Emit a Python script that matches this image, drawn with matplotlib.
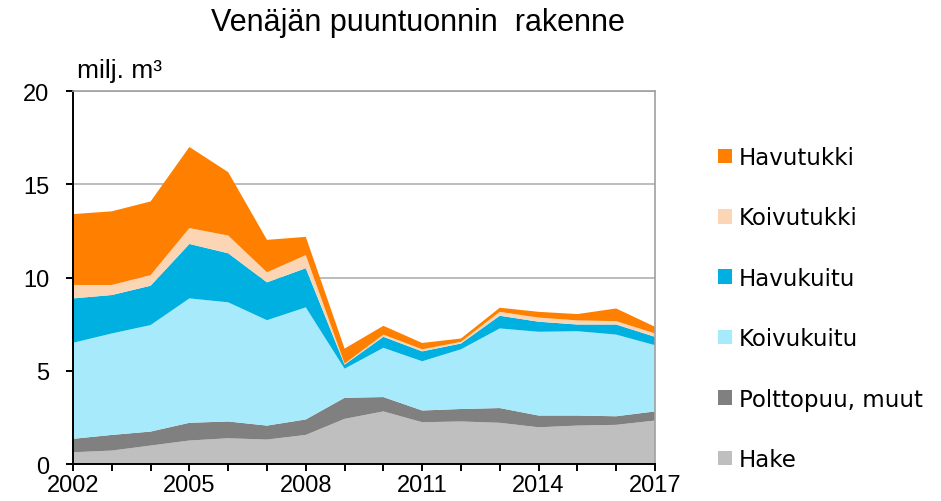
import matplotlib.pyplot as plt
from matplotlib.ticker import MultipleLocator

# Venäjän puuntuonti, milj. m3
years = list(range(2002, 2018))
hake = [0.63, 0.72, 0.99, 1.26, 1.38, 1.31, 1.56, 2.42, 2.82, 2.24, 2.28, 2.21, 1.97, 2.06, 2.10, 2.33]
polttopuu = [0.72, 0.84, 0.75, 0.95, 0.90, 0.75, 0.83, 1.13, 0.77, 0.63, 0.67, 0.79, 0.63, 0.54, 0.46, 0.49]
koivukuitu = [5.15, 5.44, 5.71, 6.67, 6.39, 5.65, 6.01, 1.56, 2.64, 2.64, 3.20, 4.27, 4.49, 4.52, 4.38, 3.55]
havukuitu = [2.38, 2.06, 2.11, 2.92, 2.63, 2.03, 2.10, 0.22, 0.59, 0.53, 0.31, 0.68, 0.54, 0.36, 0.54, 0.45]
koivutukki = [0.72, 0.54, 0.57, 0.85, 0.95, 0.54, 0.70, 0.05, 0.12, 0.11, 0.09, 0.21, 0.22, 0.22, 0.18, 0.18]
havutukki = [3.80, 3.95, 3.95, 4.35, 3.40, 1.74, 0.98, 0.81, 0.47, 0.34, 0.18, 0.22, 0.31, 0.34, 0.68, 0.36]

labels = ["Hake", "Polttopuu, muut", "Koivukuitu", "Havukuitu", "Koivutukki", "Havutukki"]
colors = ["#bfbfbf", "#808080", "#a6eafc", "#00b0e0", "#fcd5b5", "#ff8000"]
xtick_years = [2002, 2005, 2008, 2011, 2014, 2017]

fig = plt.figure(figsize=(9.41, 5.02), dpi=100)
ax = fig.add_axes([0.0776, 0.0737, 0.6184, 0.743])

ax.stackplot(years, hake, polttopuu, koivukuitu, havukuitu, koivutukki, havutukki,
             colors=colors, labels=labels, linewidth=0)

ax.set_xlim(2002, 2017)
ax.set_ylim(0, 20)
ax.set_xticks(xtick_years)
ax.xaxis.set_minor_locator(MultipleLocator(1))
ax.yaxis.set_major_locator(MultipleLocator(5))
ax.grid(axis="y", color="#b0b0b0", linewidth=1.2)
ax.set_axisbelow(True)

for s in ["top", "right"]:
    ax.spines[s].set_color("#a0a0a0")
    ax.spines[s].set_linewidth(1.2)
for s in ["left", "bottom"]:
    ax.spines[s].set_color("black")
    ax.spines[s].set_linewidth(1.4)

ax.tick_params(axis="both", which="both", direction="out", length=5, width=1.4,
               labelsize=17)
ax.tick_params(axis="x", pad=2)
ax.tick_params(axis="y", pad=12)
for lab in ax.get_xticklabels() + ax.get_yticklabels():
    lab.set_fontfamily("Liberation Sans")

fig.text(0.444, 0.955, "Venäjän puuntuonnin  rakenne", ha="center", va="center",
         fontsize=22, family="Liberation Sans")
fig.text(0.082, 0.858, "milj. m³", ha="left", va="center", fontsize=19,
         family="Liberation Sans")

handles, labs = ax.get_legend_handles_labels()
fig.legend(handles[::-1], labs[::-1], loc="upper left", bbox_to_anchor=(0.763, 0.707),
           frameon=False, fontsize=16.5, handlelength=0.6, handleheight=0.6,
           handletextpad=0.3, labelspacing=1.63, borderaxespad=0, borderpad=0)

fig.savefig("out.png", dpi=100)
